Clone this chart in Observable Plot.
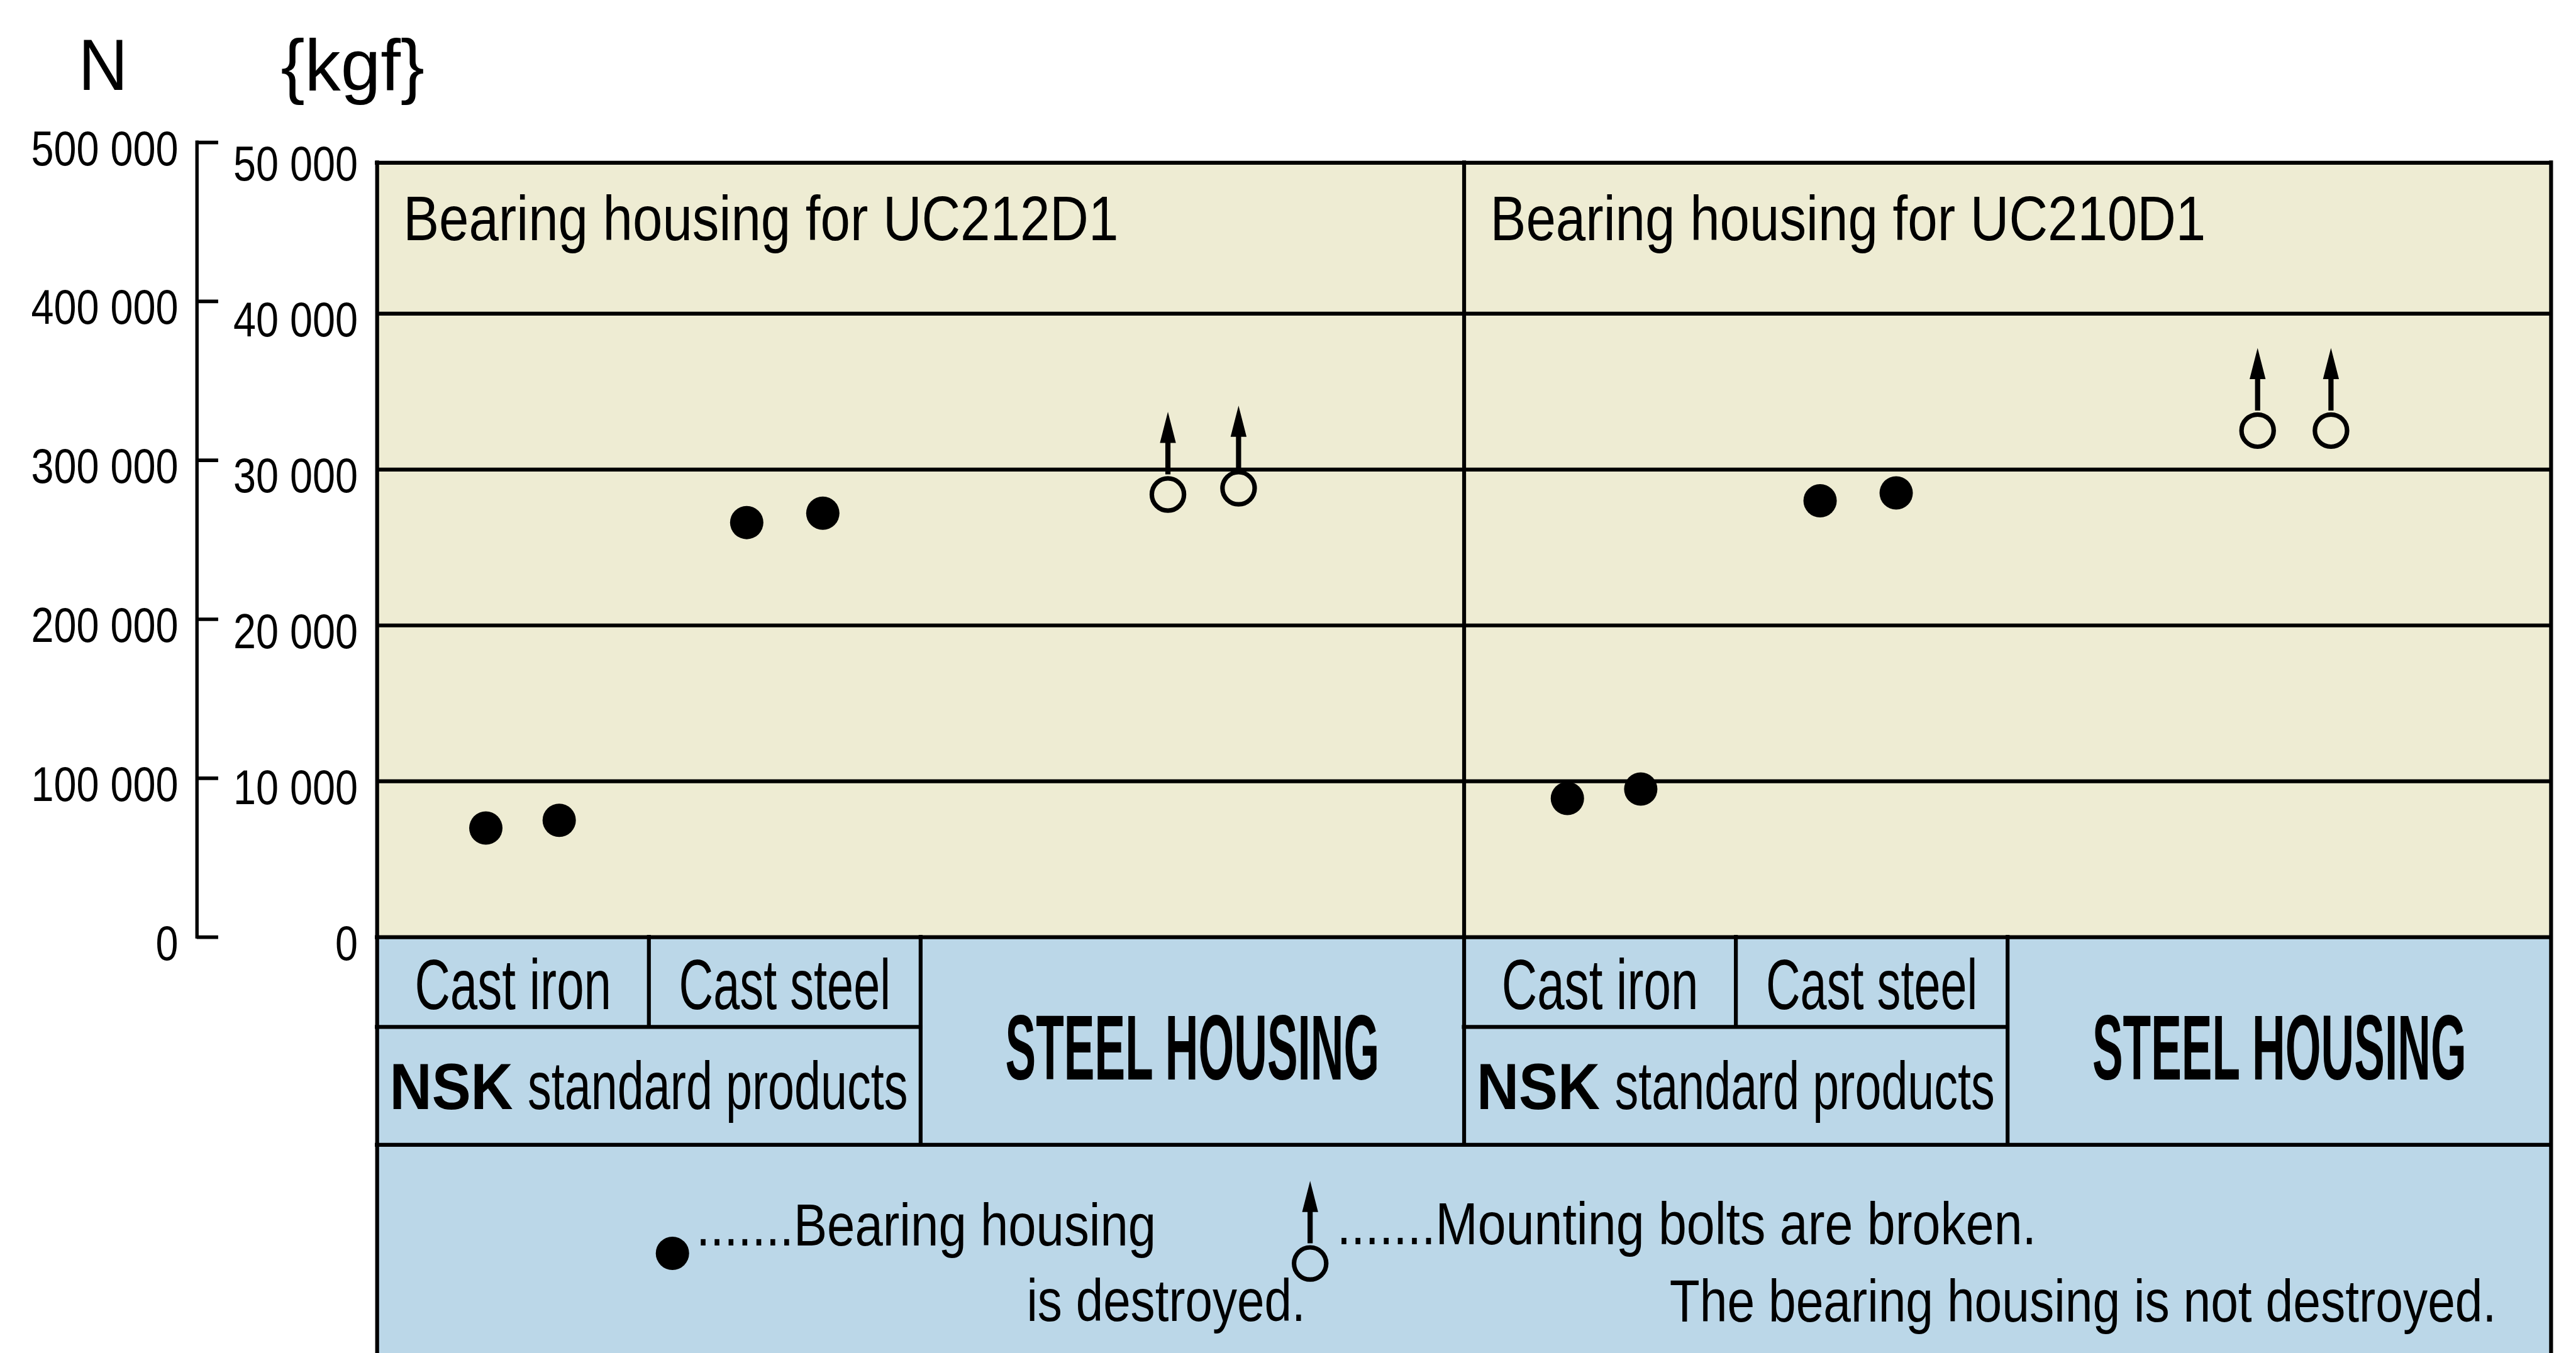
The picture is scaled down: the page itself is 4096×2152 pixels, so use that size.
<!DOCTYPE html>
<html>
<head>
<meta charset="utf-8">
<script src="https://cdn.jsdelivr.net/npm/d3@7"></script>
<script src="https://cdn.jsdelivr.net/npm/@observablehq/plot@0.6"></script>
<style>
  html, body { margin: 0; padding: 0; background: #ffffff; overflow: hidden; }
  svg { display: block; }
</style>
</head>
<body>
<script>
// ------------------------------------------------------------------ data
const housings = ["UC212D1", "UC210D1"];
const panelTitles = ["Bearing housing for UC212D1", "Bearing housing for UC210D1"];
const materials = ["Cast iron", "Cast steel", "Steel"];
const materialLabels = ["Cast iron", "Cast steel", "STEEL HOUSING"];
const groupBrand = "NSK";
const groupText = "standard products";

// one entry per tested housing (two tests per material and bearing size)
const sampleHousing  = ["UC212D1","UC212D1","UC212D1","UC212D1","UC212D1","UC212D1",
                        "UC210D1","UC210D1","UC210D1","UC210D1","UC210D1","UC210D1"];
const sampleMaterial = ["Cast iron","Cast iron","Cast steel","Cast steel","Steel","Steel",
                        "Cast iron","Cast iron","Cast steel","Cast steel","Steel","Steel"];
// place of the test along the material columns of its panel (column units)
const sampleSlot     = [0.40, 0.67, 1.36, 1.64, 2.91, 3.17,
                        0.38, 0.65, 1.31, 1.59, 2.92, 3.19];
// breaking load, kgf
const sampleLoadKgf  = [7000, 7500, 26600, 27200, 28400, 28800,
                        8900, 9500, 28000, 28500, 32500, 32500];
const sampleOutcome  = ["destroyed","destroyed","destroyed","destroyed","bolts","bolts",
                        "destroyed","destroyed","destroyed","destroyed","bolts","bolts"];

const kgfTicks    = [0, 10000, 20000, 30000, 40000, 50000];
const newtonTicks = [0, 100000, 200000, 300000, 400000, 500000];
const gridKgf     = [10000, 20000, 30000, 40000];

const legendLine1 = [".......Bearing housing", ".......Mounting bolts are broken."];
const legendLine2 = ["is destroyed.", "The bearing housing is not destroyed."];
const legendOutcome = ["destroyed", "bolts"];

// ------------------------------------------------------------------ layout / style
const W = 4096, H = 2152, S = 0.876;               // output size, scale vs reference
const NEWTON_PER_KGF = 9.80665;
const FONT = "'Liberation Sans', Arial, Helvetica, sans-serif";
const INK = "#000000", BEIGE = "#EEECD3", BLUE = "#BBD7E8";
const LW = 6.2;                                    // frame / grid line width
const materialSpan = [1, 1, 2];                    // column widths (units)
const PANEL_COLS = d3.sum(materialSpan);
const colEdges = [0, ...d3.cumsum(materialSpan)];  // 0,1,2,4

// reference-pixel geometry (4674x2456 reference) -> scale domains
const REF = {left: 684, right: 4630, zeroY: 1701, pxPerKgf: 0.0283};
const xUnit = (REF.right - REF.left) / (PANEL_COLS * housings.length);
const X = px => (px - REF.left) / xUnit;
const Y = py => (REF.zeroY - py) / REF.pxPerKgf;

const marginLeft = REF.left * S;
const marginRight = W - REF.right * S;
const marginBottom = H - REF.zeroY * S;
const marginTop = (REF.zeroY - 50000 * REF.pxPerKgf) * S;

const fmt = n => d3.format(",")(n).replace(/,/g, " ");

// advance widths (reference px) of the condensed lettering
const TEXT_WIDTH = new Map([
  ["Bearing housing for UC212D1", 1298], ["Bearing housing for UC210D1", 1299],
  ["Cast iron", 357], ["Cast steel", 384], ["NSK", 224], ["standard products", 690],
  ["STEEL HOUSING", 679],
  [".......Bearing housing", 835], ["is destroyed.", 506],
  [".......Mounting bolts are broken.", 1270], ["The bearing housing is not destroyed.", 1501],
  ["N", 90], ["{kgf}", 261]
]);
const AXIS_SQUEEZE = 0.83;

// arrow (stem + filled head) drawn above an open circle, as a custom symbol
const arrowUp = {
  draw(ctx, size) {
    const k = Math.sqrt(size / Math.PI) / 10;
    const sw = 4.1 * k, y0 = -32 * k, yb = -81.9 * k, hw = 12.7 * k, yt = -131.4 * k;
    ctx.moveTo(-sw, y0); ctx.lineTo(-sw, yb); ctx.lineTo(-hw, yb); ctx.lineTo(0, yt);
    ctx.lineTo(hw, yb); ctx.lineTo(sw, yb); ctx.lineTo(sw, y0); ctx.closePath();
  }
};

// ------------------------------------------------------------------ derived tables
const samples = sampleLoadKgf.map((v, i) => ({
  housing: sampleHousing[i],
  material: sampleMaterial[i],
  outcome: sampleOutcome[i],
  x: housings.indexOf(sampleHousing[i]) * PANEL_COLS + sampleSlot[i],
  y: v
}));

const legendSymbols = [
  {outcome: legendOutcome[0], x: X(1220), y: Y(2275)},
  {outcome: legendOutcome[1], x: X(2377.5), y: Y(2293.5)}
];

function outcomeMarks(data) {
  const dest = data.filter(d => d.outcome === "destroyed");
  const bolts = data.filter(d => d.outcome === "bolts");
  return [
    Plot.dot(dest, {x: "x", y: "y", r: 26.5, fill: INK, stroke: "none"}),
    Plot.dot(bolts, {x: "x", y: "y", r: 25.6, fill: "none", stroke: INK, strokeWidth: 7.2}),
    Plot.dot(bolts, {x: "x", y: "y", r: 10, symbol: arrowUp, fill: INK, stroke: "none"})
  ];
}

const nP = housings.length;
const xEnd = nP * PANEL_COLS;
const yTop = Y(295), yRow = Y(1864), yTable = Y(2078), yBottom = Y(2470);

// frame & table lines
const hLines = [
  {y: yTop, x1: 0, x2: xEnd},
  {y: 0, x1: 0, x2: xEnd},
  {y: yTable, x1: 0, x2: xEnd},
  ...housings.map((h, p) => ({y: yRow, x1: p * PANEL_COLS, x2: p * PANEL_COLS + colEdges[2]}))
];
const vLines = [
  {x: 0, y1: yBottom, y2: yTop},
  {x: xEnd, y1: yBottom, y2: yTop},
  ...d3.range(1, nP).map(p => ({x: p * PANEL_COLS, y1: yTable, y2: yTop})),
  ...housings.flatMap((h, p) => [
    {x: p * PANEL_COLS + colEdges[1], y1: yRow, y2: 0},
    {x: p * PANEL_COLS + colEdges[2], y1: yTable, y2: 0}
  ])
];

const titleText = housings.map((h, p) => ({x: p * PANEL_COLS + 0.096, y: Y(435.5), text: panelTitles[p]}));
const matText = housings.flatMap((h, p) => [0, 1].map(m => ({
  x: p * PANEL_COLS + (colEdges[m] + colEdges[m + 1]) / 2, y: Y(1832), text: materialLabels[m]})));
const steelText = housings.map((h, p) => ({
  x: p * PANEL_COLS + (colEdges[2] + colEdges[3]) / 2, y: Y(1960), text: materialLabels[2]}));
const brandText = housings.map((h, p) => ({x: p * PANEL_COLS + colEdges[2] / 2 - 0.500, y: Y(2013), text: groupBrand}));
const groupTxt = housings.map((h, p) => ({x: p * PANEL_COLS + colEdges[2] / 2 - 0.446, y: Y(2013), text: groupText}));

const legendText = [
  {x: X(1263), y: Y(2261), text: legendLine1[0]},
  {x: X(1863), y: Y(2398), text: legendLine2[0]},
  {x: X(2426), y: Y(2258), text: legendLine1[1]},
  {x: X(3030), y: Y(2399), text: legendLine2[1]}
];
const unitText = [
  {x: X(186.5), y: Y(163), text: "N"},
  {x: X(639.5), y: Y(163), text: "{kgf}"}
];

const toKgf = n => n / NEWTON_PER_KGF;
const nAxisDx = (396 - REF.left) * S;
const nTickSize = (396 - 357) * S;
const nLabelPad = (396 - 323) * S;
const kgfLabelPad = (REF.left - 649) * S;

// ------------------------------------------------------------------ plot
const chart = Plot.plot({
  width: W, height: H,
  marginLeft, marginRight, marginTop, marginBottom,
  x: {domain: [0, xEnd], axis: null},
  y: {domain: [0, 50000]},
  style: {fontFamily: FONT, background: "#ffffff", color: INK},
  marks: [
    Plot.rect([{}], {x1: 0, x2: xEnd, y1: yBottom, y2: 0, fill: BLUE}),
    Plot.rect([{}], {x1: 0, x2: xEnd, y1: 0, y2: yTop, fill: BEIGE}),
    Plot.ruleY(gridKgf, {x1: 0, x2: xEnd, stroke: INK, strokeWidth: LW}),
    Plot.ruleY(hLines, {y: "y", x1: "x1", x2: "x2", stroke: INK, strokeWidth: LW, strokeLinecap: "square"}),
    Plot.ruleX(vLines, {x: "x", y1: "y1", y2: "y2", stroke: INK, strokeWidth: LW, strokeLinecap: "square"}),

    // kgf axis (labels only)
    Plot.axisY(kgfTicks, {anchor: "left", tickSize: 0, tickPadding: kgfLabelPad, tickFormat: fmt,
                          fontSize: 78, dy: 11}),
    // N axis: bracket, ticks, labels
    Plot.ruleX([X(357)], {y1: 0, y2: toKgf(d3.max(newtonTicks)), stroke: INK, strokeWidth: 5.4, strokeLinecap: "square"}),
    Plot.axisY(newtonTicks.map(toKgf), {anchor: "left", dx: nAxisDx, tickSize: nTickSize, tickPadding: 0,
                                        tickFormat: () => "", strokeWidth: 5.7}),
    Plot.axisY(newtonTicks.map(toKgf), {anchor: "left", dx: nAxisDx, tickSize: 0, tickPadding: nLabelPad,
                                        tickFormat: d => fmt(Math.round(d * NEWTON_PER_KGF)), fontSize: 78, dy: 11}),
    Plot.text(unitText, {x: "x", y: "y", text: "text", fontSize: 115.6, textAnchor: "middle", lineAnchor: "bottom"}),

    // panel titles
    Plot.text(titleText, {x: "x", y: "y", text: "text", fontSize: 100.7, textAnchor: "start", lineAnchor: "bottom"}),

    // data
    ...outcomeMarks(samples),

    // table
    Plot.text(matText, {x: "x", y: "y", text: "text", fontSize: 113.9, textAnchor: "middle", lineAnchor: "bottom"}),
    Plot.text(steelText, {x: "x", y: "y", text: "text", fontSize: 146.3, fontWeight: "bold", textAnchor: "middle", lineAnchor: "bottom"}),
    Plot.text(brandText, {x: "x", y: "y", text: "text", fontSize: 104, fontWeight: "bold", textAnchor: "end", lineAnchor: "bottom"}),
    Plot.text(groupTxt, {x: "x", y: "y", text: "text", fontSize: 107.7, textAnchor: "start", lineAnchor: "bottom"}),

    // legend
    ...outcomeMarks(legendSymbols),
    Plot.text(legendText, {x: "x", y: "y", text: "text", fontSize: 95, textAnchor: "start", lineAnchor: "bottom"})
  ]
});

document.body.appendChild(chart);

// condensed lettering: squeeze each label horizontally about its anchor point
chart.querySelectorAll("text").forEach(t => {
  const s = t.textContent;
  if (!s) return;
  const natural = t.getComputedTextLength();
  if (!(natural > 0)) return;
  const target = TEXT_WIDTH.has(s) ? TEXT_WIDTH.get(s) * S : natural * AXIS_SQUEEZE;
  const c = target / natural;
  const tr = t.getAttribute("transform") || "";
  t.setAttribute("transform", `${tr} scale(${c.toFixed(4)} 1)`.trim());
});
</script>
</body>
</html>
